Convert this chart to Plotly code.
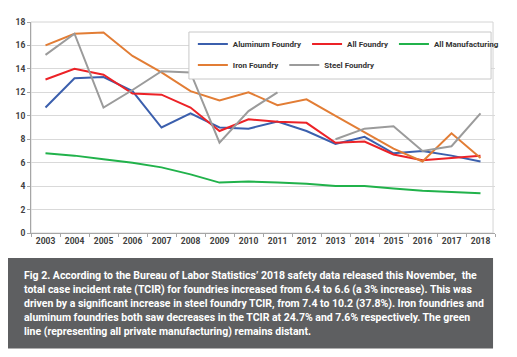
import plotly.graph_objects as go

years = [str(y) for y in range(2003, 2019)]
aluminum = [10.7, 13.2, 13.3, 12.1, 9.0, 10.2, 9.0, 8.9, 9.5, 8.7, 7.6, 8.2, 6.8, 7.0, 6.6, 6.1]
all_foundry = [13.1, 14.0, 13.5, 11.9, 11.8, 10.7, 8.7, 9.7, 9.5, 9.4, 7.7, 7.8, 6.7, 6.2, 6.4, 6.6]
all_manufacturing = [6.8, 6.6, 6.3, 6.0, 5.6, 5.0, 4.3, 4.4, 4.3, 4.2, 4.0, 4.0, 3.8, 3.6, 3.5, 3.4]
iron = [16.0, 17.0, 17.1, 15.1, 13.7, 12.1, 11.3, 12.0, 10.9, 11.4, 10.0, 8.6, 7.2, 6.1, 8.5, 6.4]
steel = [15.2, 17.0, 10.7, 12.2, 13.8, 13.7, 7.7, 10.4, 12.0, None, 8.0, 8.9, 9.1, 7.0, 7.4, 10.2]
y_ticks = [0, 2, 4, 6, 8, 10, 12, 14, 16, 18]

caption_lines = [
    "Fig 2. According to the Bureau of Labor Statistics’ 2018 safety data released this November,  the",
    "total case incident rate (TCIR) for foundries increased from 6.4 to 6.6 (a 3% increase). This was",
    "driven by a significant increase in steel foundry TCIR, from 7.4 to 10.2 (37.8%). Iron foundries and",
    "aluminum foundries both saw decreases in the TCIR at 24.7% and 7.6% respectively. The green",
    "line (representing all private manufacturing) remains distant.",
]

FONT = "Roboto, Liberation Sans, Arial, sans-serif"

series = [
    ("Aluminum Foundry", aluminum, "#3b5fad", "legend"),
    ("All Foundry", all_foundry, "#ec2227", "legend"),
    ("All Manufacturing", all_manufacturing, "#21b24b", "legend"),
    ("Iron Foundry", iron, "#e27d35", "legend2"),
    ("Steel Foundry", steel, "#9b9b9b", "legend2"),
]

fig = go.Figure()
for name, vals, color, lg in series:
    fig.add_trace(go.Scatter(
        x=years, y=vals, name=name, mode="lines",
        line=dict(color=color, width=2), connectgaps=False, legend=lg,
    ))

# page body has an 8px margin: figure origin sits at (8, 8) in the window
OX, OY = 8, 8
W, H = 501, 341
PX0, PX1, PY0, PY1 = 31, 504, 22, 233   # plot area in window pixels
L, R, T, B = PX0 - OX, OX + W - PX1, PY0 - OY, OY + H - PY1
pw, ph = PX1 - PX0, PY1 - PY0

def px(x):
    return (x - PX0) / pw

def py(y):
    return (PY1 - y) / ph

legend_common = dict(
    orientation="h", bgcolor="rgba(0,0,0,0)", borderwidth=0,
    font=dict(family=FONT, size=8, color="#333333", weight="bold"),
    xanchor="left", yanchor="middle", itemwidth=30, tracegroupgap=0,
)

tick_font = dict(family=FONT, size=8.5, color="#404040", weight="bold")

annotations = []
for i, line in enumerate(caption_lines):
    annotations.append(dict(
        text=line, xref="paper", yref="paper", x=px(22), y=py(275.5 + 14.1 * i),
        xanchor="left", yanchor="middle", align="left", showarrow=False,
        font=dict(family=FONT, size=10.5, color="white", weight="bold"),
    ))

fig.update_layout(
    width=W, height=H,
    margin=dict(l=L, r=R, t=T, b=B, pad=0),
    paper_bgcolor="white", plot_bgcolor="white",
    font=dict(family=FONT, size=8, color="#333333"),
    showlegend=True,
    legend=dict(x=px(196), y=py(44), **legend_common),
    legend2=dict(x=px(196), y=py(65), **legend_common),
    xaxis=dict(
        type="category", range=[-0.5, len(years) - 0.5],
        showgrid=False, showline=True, linecolor="#a6a6a6", linewidth=1,
        ticks="outside", tickson="boundaries", ticklen=3, tickcolor="#a6a6a6",
        tickfont=tick_font, tickangle=0, fixedrange=True,
    ),
    yaxis=dict(
        range=[0, 18], tickvals=y_ticks, showgrid=True, gridcolor="#d9d9d9", gridwidth=1,
        showline=True, linecolor="#a6a6a6", linewidth=1, zeroline=False,
        ticks="outside", ticklen=3, tickcolor="#a6a6a6",
        tickfont=tick_font, fixedrange=True,
    ),
    shapes=[
        dict(type="rect", xref="paper", yref="paper", x0=0, x1=px(502), y0=0, y1=1,
             line=dict(color="#d4d4d4", width=1), layer="below"),
        dict(type="rect", xref="paper", yref="paper", x0=px(192), x1=px(500), y0=py(79), y1=py(32),
             line=dict(color="#c8c8c8", width=1), fillcolor="white", layer="above"),
        dict(type="rect", xref="paper", yref="paper", x0=px(7), x1=px(502), y0=py(348.5), y1=py(258),
             line=dict(width=0), fillcolor="#5e5f61", layer="above"),
    ],
    annotations=annotations,
)

fig.write_html("out.html")
